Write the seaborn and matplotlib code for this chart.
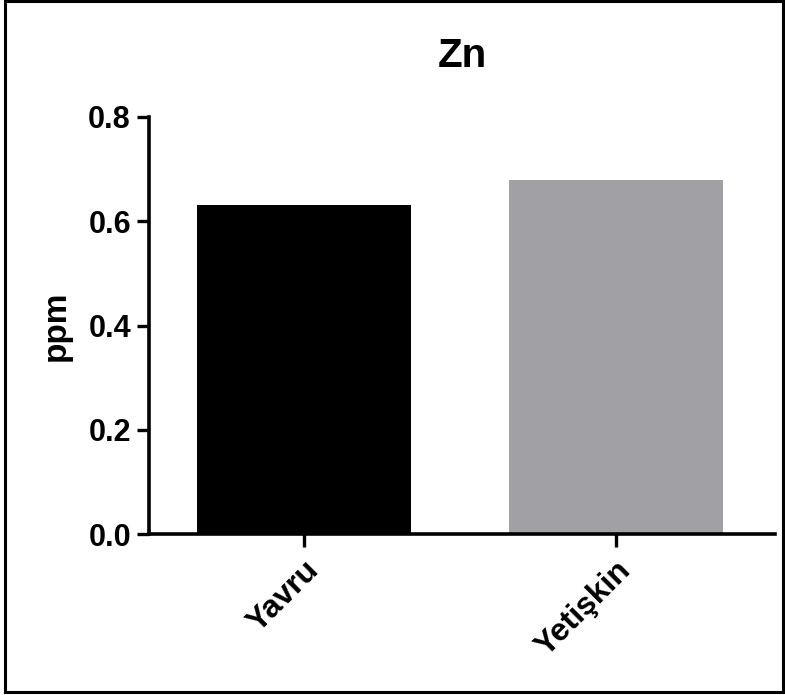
import matplotlib
matplotlib.use("Agg")
import matplotlib.pyplot as plt
import seaborn as sns
import pandas as pd
from matplotlib.patches import Rectangle

# data
groups = ["Yavru", "Yetişkin"]
values = [0.631, 0.679]
colors = ["#000000", "#A1A0A5"]
y_ticks = [0.0, 0.2, 0.4, 0.6, 0.8]

sns.set_style("ticks")
plt.rcParams['font.family'] = ['Liberation Sans', 'DejaVu Sans']
plt.rcParams['font.weight'] = 'bold'
plt.rcParams['text.color'] = 'black'
plt.rcParams['xtick.color'] = 'black'
plt.rcParams['ytick.color'] = 'black'
plt.rcParams['axes.labelcolor'] = 'black'

df = pd.DataFrame({"group": groups, "ppm": values})

fig = plt.figure(figsize=(7.85, 6.95), dpi=100)
ax = fig.add_axes([149 / 785, 1 - 534 / 695, (775 - 149) / 785, (534 - 117) / 695])

sns.barplot(data=df, x="group", y="ppm", hue="group", order=groups,
            palette=colors, width=0.686, legend=False, ax=ax,
            saturation=1, linewidth=0)

ax.set_xlim(-0.497, 1.51)
ax.set_ylim(0, 0.8)
ax.set_yticks(y_ticks)
ax.set_yticklabels(["{:.1f}".format(t) for t in y_ticks])

sns.despine(ax=ax)
for side in ["left", "bottom"]:
    ax.spines[side].set_linewidth(2.6)
    ax.spines[side].set_color("black")
    ax.spines[side].set_zorder(5)
ax.tick_params(axis="both", length=9, width=2.4, direction="out", color="black")
ax.tick_params(axis="y", labelsize=22, pad=4)
ax.tick_params(axis="x", labelsize=23, pad=6)
for lab in ax.get_xticklabels():
    lab.set_rotation(45)
    lab.set_ha("right")
    lab.set_va("top")
    lab.set_rotation_mode("anchor")
    lab.set_fontweight("bold")
for lab in ax.get_yticklabels():
    lab.set_fontweight("bold")

ax.set_xlabel("")
ax.set_ylabel("ppm", fontsize=24, fontweight="bold", labelpad=12)
ax.set_title("Zn", fontsize=29, fontweight="bold", pad=36)

# frame around the whole picture
fig.patches.append(Rectangle((5 / 785, 3 / 695), 778 / 785, 691 / 695,
                             transform=fig.transFigure, fill=False,
                             edgecolor="black", linewidth=2.2))

plt.savefig("out.png", dpi=100)
